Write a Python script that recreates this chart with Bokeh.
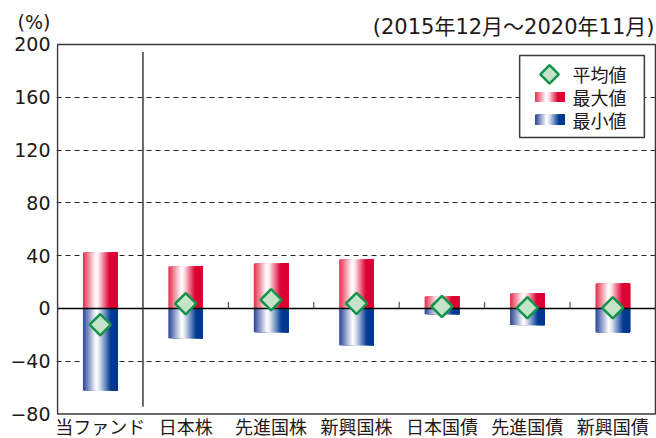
import numpy as np
from bokeh.plotting import figure
from bokeh.models import ColumnDataSource, FixedTicker, Range1d
from bokeh.core.properties import value
from bokeh.embed import file_html
from bokeh.resources import INLINE

# ---------------- data ----------------
categories = ["当ファンド", "日本株", "先進国株", "新興国株", "日本国債", "先進国債", "新興国債"]
max_vals = [42.4, 31.8, 34.1, 37.1, 9.1, 11.4, 18.9]
min_vals = [-62.1, -22.5, -18.0, -27.8, -4.3, -12.6, -18.2]
avg_vals = [-12.3, 3.6, 6.6, 3.8, 1.5, 0.5, 0.5]
y_ticks = [-80, -40, 0, 40, 80, 120, 160, 200]
y_tick_labels = ["−80", "−40", "0", "40", "80", "120", "160", "200"]
legend_labels = ["平均値", "最大値", "最小値"]
title_text = "(2015年12月～2020年11月)"
unit_text = "(%)"

FONT = "DejaVu Sans, Noto Sans CJK JP"
JFONT = "Noto Sans CJK JP"
TXT = "#231815"
RED_STOPS = [(0.0, (228, 44, 74)), (0.37, (255, 255, 255)), (0.45, (253, 232, 234)),
             (0.77, (221, 0, 52)), (1.0, (220, 0, 50))]
BLUE_STOPS = [(0.0, (40, 66, 152)), (0.38, (255, 255, 255)), (0.46, (232, 234, 246)),
              (0.80, (0, 58, 145)), (1.0, (0, 56, 142))]
N_SLICES = 30
BAR_W = 0.405
Y_TOP = 233.3      # room above 200 for header texts
Y_BOT = -98.5      # room below -80 for category labels
UNIT_POS = 216.7
TITLE_Y = 213.6
CAT_LABEL_Y = -89.3


def grad_colors(stops, n):
    out = []
    for j in range(n):
        t = (j + 0.5) / n
        for k in range(len(stops) - 1):
            t0, a = stops[k]
            t1, b = stops[k + 1]
            if t0 <= t <= t1:
                f = (t - t0) / (t1 - t0)
                rgb = [int(round(a[m] + (b[m] - a[m]) * f)) for m in range(3)]
                out.append("#%02x%02x%02x" % tuple(rgb))
                break
    return out


red_cols = grad_colors(RED_STOPS, N_SLICES)
blue_cols = grad_colors(BLUE_STOPS, N_SLICES)

ncat = len(categories)
centers = [i + 0.5 for i in range(ncat)]

# gradient slices: each slice runs from its left edge to the bar's right edge
sl, sr, stop, sbot, scol = [], [], [], [], []
sw = BAR_W / N_SLICES
for i in range(ncat):
    right = centers[i] + BAR_W / 2
    for j in range(N_SLICES):
        left = centers[i] - BAR_W / 2 + j * sw
        sl.append(left); sr.append(right); stop.append(max_vals[i]); sbot.append(0); scol.append(red_cols[j])
        sl.append(left); sr.append(right); stop.append(0); sbot.append(min_vals[i]); scol.append(blue_cols[j])
bars = ColumnDataSource(dict(left=sl, right=sr, top=stop, bottom=sbot, color=scol))

p = figure(width=656, height=438, output_backend="svg", toolbar_location=None,
           x_range=Range1d(-0.012, ncat + 0.012), y_range=Range1d(Y_BOT, Y_TOP),
           min_border_left=56, min_border_right=0, min_border_top=0, min_border_bottom=0)
p.background_fill_color = "white"
p.border_fill_color = "white"
p.outline_line_color = None

# grid
p.xgrid.grid_line_color = None
p.ygrid.ticker = FixedTicker(ticks=[t for t in y_ticks[1:-1] if t != 0])
p.ygrid.grid_line_color = "#222222"
p.ygrid.grid_line_dash = "5 4"
p.ygrid.grid_line_width = 1
p.ygrid.bounds = (0, ncat)

# y axis (the unit label sits on an extra tick above 200)
p.yaxis.ticker = FixedTicker(ticks=y_ticks + [UNIT_POS])
overrides = {t: l for t, l in zip(y_ticks, y_tick_labels)}
overrides[UNIT_POS] = unit_text
p.yaxis.major_label_overrides = overrides
p.yaxis.major_tick_out = 0
p.yaxis.major_tick_in = 0
p.yaxis.minor_tick_line_color = None
p.yaxis.axis_line_color = None
p.yaxis.major_label_standoff = 6
p.yaxis.major_label_text_font = FONT
p.yaxis.major_label_text_font_size = "19px"
p.yaxis.major_label_text_color = TXT
p.xaxis.visible = False

# bars
p.quad(left="left", right="right", top="top", bottom="bottom", fill_color="color",
       line_color=None, source=bars)

# zero line and small ticks at category boundaries
p.segment(x0=[0], y0=[0], x1=[ncat], y1=[0], line_color="black", line_width=1.5)
bounds = list(range(2, ncat))
p.segment(x0=bounds, y0=[0] * len(bounds), x1=bounds, y1=[5] * len(bounds),
          line_color="#333333", line_width=1)
# separator between fund and asset classes
p.segment(x0=[1], y0=[-74.5], x1=[1], y1=[194.2], line_color="#3a3a3a", line_width=1.5)

# plot frame
p.quad(left=[0], right=[ncat], top=[y_ticks[-1]], bottom=[y_ticks[0]], fill_color=None,
       line_color="#3a3a3a", line_width=1.5)

# averages
p.scatter(x=centers, y=avg_vals, marker="square", angle=np.pi / 4, size=15,
          fill_color="#c4e3c8", line_color="#15924a", line_width=2.5)

# category labels
p.text(x=centers, y=[CAT_LABEL_Y] * ncat, text=categories,
       text_font=value(JFONT), text_font_size="18px", text_color=TXT,
       text_align="center", text_baseline="middle")

# manual legend
p.quad(left=[5.41], right=[6.87], top=[191.7], bottom=[129.5], fill_color="white",
       line_color="#3a3a3a", line_width=1.5)
p.scatter(x=[5.76], y=[177.3], marker="square", angle=np.pi / 4, size=13,
          fill_color="#c4e3c8", line_color="#15924a", line_width=2.5)
lg_w = (5.94 - 5.59) / N_SLICES
ll = [5.59 + j * lg_w for j in range(N_SLICES)]
p.quad(left=ll, right=[5.94] * N_SLICES, top=[164] * N_SLICES, bottom=[156.4] * N_SLICES,
       fill_color=red_cols, line_color=None)
p.quad(left=ll, right=[5.94] * N_SLICES, top=[147] * N_SLICES, bottom=[139] * N_SLICES,
       fill_color=blue_cols, line_color=None)
p.text(x=[6.03] * 3, y=[177.3, 160.2, 143.0], text=legend_labels,
       text_font=value(JFONT), text_font_size="18px", text_color=TXT,
       text_align="left", text_baseline="middle")

# period header
p.text(x=[ncat], y=[TITLE_Y], text=[title_text], x_offset=-1,
       text_font=value(FONT), text_font_size="21px", text_color=TXT,
       text_align="right", text_baseline="middle")

open("out.html", "w").write(file_html(p, INLINE))
